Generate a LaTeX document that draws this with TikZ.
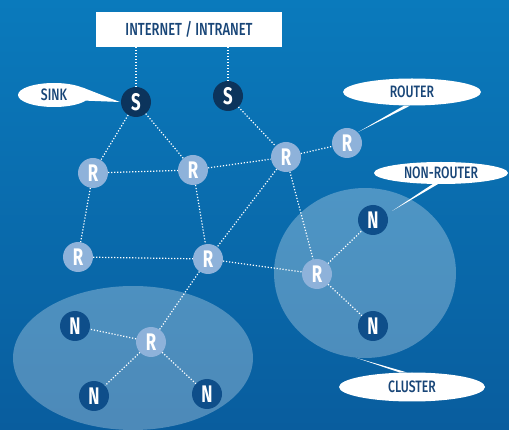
\documentclass[tikz,border=0pt]{standalone}
\usepackage{fontspec}
\usetikzlibrary{shapes.geometric}
\newfontfamily\lblfont[FakeStretch=0.74]{Fira Sans Medium}
\newfontfamily\ltrfont[FakeStretch=0.7]{Fira Sans Bold}
\definecolor{bgtop}{RGB}{10,122,188}
\definecolor{bgbot}{RGB}{9,93,158}
\definecolor{rcol}{RGB}{142,178,218}
\definecolor{ncol}{RGB}{14,78,138}
\definecolor{scol}{RGB}{12,52,92}
\definecolor{txtcol}{RGB}{25,70,120}
\tikzset{
  dev/.style={circle, minimum size=30pt, inner sep=0pt, text=white, font=\ltrfont\fontsize{24}{24}\selectfont},
  rnode/.style={dev, fill=rcol},
  nnode/.style={dev, fill=ncol},
  snode/.style={dev, fill=scol},
  link/.style={white, line width=1.2pt, dash pattern=on 1.2pt off 1.8pt},
  callout/.style={ellipse, fill=white, inner sep=0pt, text=txtcol, font=\lblfont\fontsize{16.5}{16.5}\selectfont},
  cluster/.style={ellipse, fill=white, fill opacity=0.28, inner sep=0pt}
}
\begin{document}
\begin{tikzpicture}[x=1pt,y=-1pt]
\shade[top color=bgtop, bottom color=bgbot] (0,0) rectangle (509,430);
\path[use as bounding box] (0,0) rectangle (509,430);
% clusters
\node[cluster, minimum width=240pt, minimum height=144pt] (clL) at (133,358) {};
\node[cluster, minimum width=182pt, minimum height=170pt] (clR) at (365,273) {};
% internet box
\node[fill=white, minimum width=186pt, minimum height=35pt, inner sep=0pt, text=txtcol, font=\lblfont\fontsize{17.5}{17.5}\selectfont] (net) at (189,29.5) {INTERNET / INTRANET};
% devices
\node[snode] (S1) at (136,102) {S};
\node[snode] (S2) at (228,96) {S};
\node[rnode] (Ra) at (93,173) {R};
\node[rnode] (Rb) at (193,170) {R};
\node[rnode] (Rc) at (286,157) {R};
\node[rnode] (Rd) at (347,143) {R};
\node[rnode] (Re) at (78,257) {R};
\node[rnode] (Rf) at (208,259) {R};
\node[rnode] (Rg) at (317,274) {R};
\node[rnode] (Rh) at (151,342) {R};
\node[nnode] (N1) at (373,220) {N};
\node[nnode] (N2) at (373,326) {N};
\node[nnode] (N3) at (75,326) {N};
\node[nnode] (N4) at (94,396) {N};
\node[nnode] (N5) at (207,394) {N};
% links
\draw[link] (net.south -| S1) -- (S1);
\draw[link] (net.south -| S2) -- (S2);
\draw[link] (S1) -- (Ra);
\draw[link] (S1) -- (Rb);
\draw[link] (S2) -- (Rc);
\draw[link] (Ra) -- (Rb);
\draw[link] (Rb) -- (Rc);
\draw[link] (Rc) -- (Rd);
\draw[link] (Ra) -- (Re);
\draw[link] (Rb) -- (Rf);
\draw[link] (Rc) -- (Rf);
\draw[link] (Rc) -- (Rg);
\draw[link] (Re) -- (Rf);
\draw[link] (Rf) -- (Rg);
\draw[link] (Rf) -- (Rh);
\draw[link] (Rh) -- (N3);
\draw[link] (Rh) -- (N4);
\draw[link] (Rh) -- (N5);
\draw[link] (Rg) -- (N1);
\draw[link] (Rg) -- (N2);
% callouts
\node[callout, minimum width=72pt, minimum height=24pt] (sink) at (54,95) {SINK};
\fill[white] (sink.15) -- (sink.-10) -- ([xshift=-1pt]S1.west) -- cycle;
\node[callout, minimum width=138pt, minimum height=27pt] (router) at (412,92) {ROUTER};
\fill[white] (router.-120) -- (router.-98) -- (Rd.45) -- cycle;
\node[callout, minimum width=134pt, minimum height=22pt] (nonr) at (441,173) {NON-ROUTER};
\fill[white] (nonr.-127) -- (nonr.-106) -- ([shift={(19,-9)}]N1.center) -- cycle;
\node[callout, minimum width=146pt, minimum height=29pt] (clus) at (412,387) {CLUSTER};
\fill[white] (clus.110) -- (clus.130) -- (clR.-96) -- cycle;
\end{tikzpicture}
\end{document}
